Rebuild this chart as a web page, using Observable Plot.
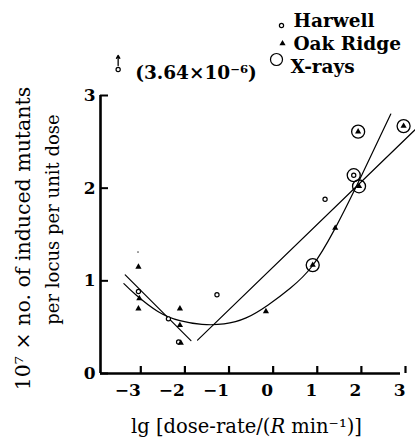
<!DOCTYPE html>
<html>
<head>
<meta charset="utf-8">
<script src="https://cdn.jsdelivr.net/npm/d3@7"></script>
<script src="https://cdn.jsdelivr.net/npm/@observablehq/plot@0.6"></script>
<style>
  html, body { margin: 0; padding: 0; background: #fff; }
  #chart svg { display: block; }
</style>
</head>
<body>
<div id="chart"></div>
<script>
// ---- data ----
const xTicks = [-3, -2, -1, 0, 1, 2, 3];
const yTicks = [0, 1, 2, 3];

// Harwell (small open circles)
const harwellX = [-2.94, -2.26, -2.03, -1.16, 1.29, 1.94];
const harwellY = [0.885, 0.59, 0.34, 0.85, 1.88, 2.14];

// Oak Ridge (small filled triangles)
const oakX = [-2.94, -2.92, -2.94, -2.0, -2.0, -1.98, -0.05, 1.52, 1.01, 2.06, 2.04, 3.07];
const oakY = [1.15, 0.81, 0.70, 0.70, 0.52, 0.33, 0.67, 1.57, 1.17, 2.02, 2.61, 2.67];

// X-ray points (large open circles)
const xrayX = [1.01, 1.94, 2.06, 2.04, 3.07];
const xrayY = [1.17, 2.14, 2.02, 2.61, 2.67];

// faint isolated dot
const faintX = [-2.95];
const faintY = [1.31];

// off-scale Harwell point (3.64×10⁻⁶), drawn at the top edge
const offX = [-3.4];
const offY = [3.28];
const offLabel = "(3.64×10⁻⁶)";

// fitted curve
const curveX = [-3.27, -3.0, -2.5, -2.0, -1.5, -1.0, -0.5, 0.0, 0.5, 1.0, 1.5, 2.0, 2.5, 2.78];
const curveY = [0.97, 0.85, 0.67, 0.57, 0.53, 0.535, 0.6, 0.74, 0.92, 1.16, 1.55, 2.02, 2.52, 2.8];

// two straight line fits
const leftLineX = [-3.24, -1.75];
const leftLineY = [1.065, 0.355];
const rightLineX = [-1.6, 3.33];
const rightLineY = [0.36, 2.63];

const legendLabels = ["Harwell", "Oak Ridge", "X-rays"];
const xLabel = "lg [dose-rate/(𝑅 min⁻¹)]";
const yLabel1 = "10⁷ × no. of induced mutants";
const yLabel2 = "per locus per unit dose";

// ---- build tables ----
const zip = (xs, ys) => xs.map((x, i) => ({x, y: ys[i]}));
const harwell = zip(harwellX, harwellY);
const oak = zip(oakX, oakY);
const xray = zip(xrayX, xrayY);
const faint = zip(faintX, faintY);
const off = zip(offX, offY);
const curve = zip(curveX, curveY);
const leftLine = zip(leftLineX, leftLineY);
const rightLine = zip(rightLineX, rightLineY);

const FONT = "DejaVu Serif";
const legendText = (label, dx, dy) => Plot.text([label], {frameAnchor: "top-left", text: d => d,
  textAnchor: "start", lineAnchor: "middle", dx, dy, fontSize: 18.5, fontWeight: "bold"});

const chart = Plot.plot({
  width: 415,
  height: 439,
  marginLeft: 100,
  marginRight: 15,
  marginTop: 95,
  marginBottom: 66,
  style: {fontFamily: FONT, background: "#fff", color: "#000", overflow: "visible"},
  x: {domain: [-3.8, 3], label: null},
  y: {domain: [0, 3], label: null},
  marks: [
    // axes
    Plot.axisX({ticks: xTicks, tickSize: -7, tickPadding: 17, strokeWidth: 2.2,
      tickFormat: d => d < 0 ? "−" + Math.abs(d) : String(d),
      textAnchor: "end", dx: 5, fontSize: 17, fontWeight: "bold", label: null}),
    Plot.axisY({ticks: yTicks, tickSize: -8, tickPadding: 13, strokeWidth: 2,
      tickFormat: d => String(d), fontSize: 17, fontWeight: "bold", label: null}),
    Plot.ruleY([0], {strokeWidth: 2.6}),
    Plot.ruleX([-3.8], {strokeWidth: 2.6}),

    // fits
    Plot.line(curve, {x: "x", y: "y", curve: "natural", stroke: "#000", strokeWidth: 1.2}),
    Plot.line(leftLine, {x: "x", y: "y", stroke: "#000", strokeWidth: 1.2}),
    Plot.line(rightLine, {x: "x", y: "y", stroke: "#000", strokeWidth: 1.2}),

    // points
    Plot.dot(xray, {x: "x", y: "y", r: 6.5, stroke: "#000", strokeWidth: 1.3, fill: "none"}),
    Plot.dot(harwell, {x: "x", y: "y", r: 2.1, stroke: "#000", strokeWidth: 1.2, fill: "#fff"}),
    Plot.dot(oak, {x: "x", y: "y", symbol: "triangle", r: 2.3, fill: "#000", stroke: "none"}),
    Plot.dot(faint, {x: "x", y: "y", r: 0.8, fill: "#444", stroke: "none"}),

    // off-scale point with arrow and value
    Plot.dot(off, {x: "x", y: "y", r: 2.1, stroke: "#000", strokeWidth: 1.2, fill: "#fff"}),
    Plot.arrow(off, {x: "x", y1: "y", y2: d => d.y + 0.11, dy: -4, bend: 0, stroke: "#000",
      strokeWidth: 1.3, headLength: 5, insetStart: 0, insetEnd: 0}),
    Plot.text(off, {x: "x", y: "y", text: () => offLabel, textAnchor: "start", dx: 17, dy: 4,
      fontSize: 18.5, fontWeight: "bold"}),

    // legend
    Plot.dot([legendLabels[0]], {frameAnchor: "top-left", dx: 181, dy: -70, r: 2.1, stroke: "#000", strokeWidth: 1.2, fill: "#fff"}),
    Plot.dot([legendLabels[1]], {frameAnchor: "top-left", dx: 182, dy: -52, symbol: "triangle", r: 2.3, fill: "#000", stroke: "none"}),
    Plot.dot([legendLabels[2]], {frameAnchor: "top-left", dx: 176, dy: -36, r: 6, stroke: "#000", strokeWidth: 1.2, fill: "none"}),
    legendText(legendLabels[0], 193, -74),
    legendText(legendLabels[1], 193, -51),
    legendText(legendLabels[2], 190, -28),

    // axis titles
    Plot.text([xLabel], {frameAnchor: "bottom", text: d => d, textAnchor: "middle", lineAnchor: "bottom",
      dx: -4, dy: 59, fontSize: 19.5}),
    Plot.text([yLabel1], {frameAnchor: "left", text: d => d, rotate: -90, textAnchor: "middle",
      lineAnchor: "middle", dx: -77, dy: 4, fontSize: 20.5}),
    Plot.text([yLabel2], {frameAnchor: "left", text: d => d, rotate: -90, textAnchor: "middle",
      lineAnchor: "middle", dx: -47, dy: -15, fontSize: 18})
  ]
});

document.getElementById("chart").append(chart);
</script>
</body>
</html>
